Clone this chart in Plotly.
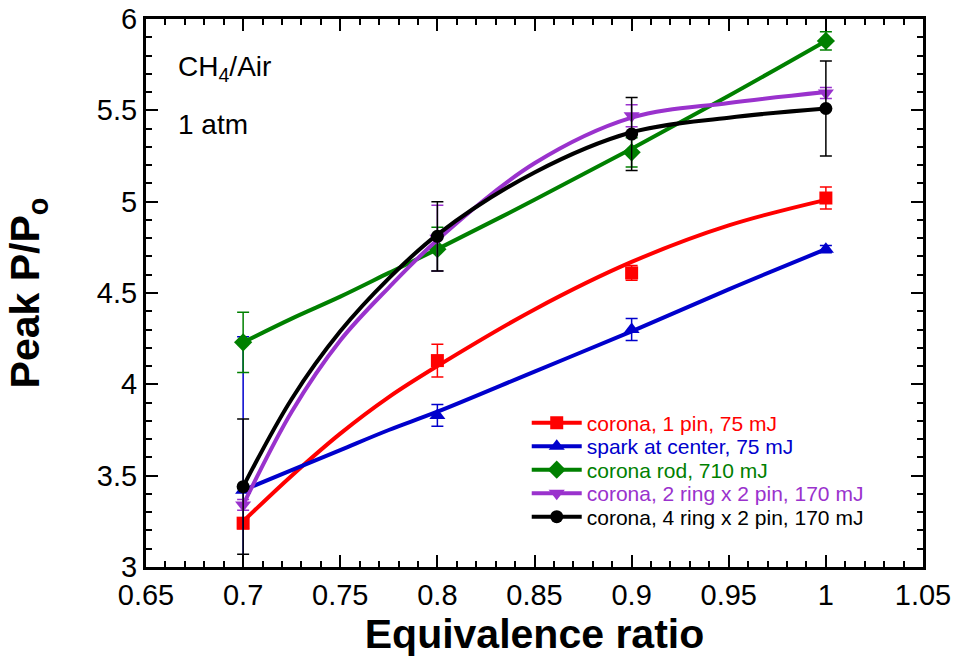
import plotly.graph_objects as go

# measured points
phi = [0.7, 0.8, 0.9, 1.0]
red_y = [3.24, 4.13, 4.61, 5.02]
red_err = [0.03, 0.09, 0.04, 0.06]
blue_y = [3.42, 3.83, 4.30, 4.74]
blue_err = [0.84, 0.06, 0.06, 0.02]
green_y = [4.23, 4.74, 5.27, 5.88]
green_err = [0.165, 0.12, 0.08, 0.05]
purple_y = [3.34, 4.80, 5.47, 5.595]
purple_err = [0.03, 0.18, 0.06, 0.03]
black_y = [3.44, 4.81, 5.37, 5.51]
black_err = [0.37, 0.19, 0.20, 0.26]

# fitted curves
fit_phi = [0.7, 0.725, 0.75, 0.775, 0.8, 0.85, 0.9, 0.95, 1.0]
red_fit = [3.25, 3.50, 3.73, 3.93, 4.10, 4.41, 4.67, 4.87, 5.01]
blue_fit = [3.42, 3.53, 3.64, 3.75, 3.85, 4.07, 4.29, 4.52, 4.74]
green_fit = [4.23, 4.36, 4.48, 4.61, 4.74, 5.01, 5.29, 5.58, 5.88]
purple_fit = [3.34, 3.85, 4.24, 4.53, 4.79, 5.21, 5.46, 5.54, 5.60]
black_fit = [3.44, 3.92, 4.29, 4.58, 4.82, 5.16, 5.38, 5.46, 5.51]

names = [
    "corona, 1 pin, 75 mJ",
    "spark at center, 75 mJ",
    "corona rod, 710 mJ",
    "corona, 2 ring x 2 pin, 170 mJ",
    "corona, 4 ring x 2 pin, 170 mJ",
]

x_tickvals = [0.65, 0.7, 0.75, 0.8, 0.85, 0.9, 0.95, 1.0, 1.05]
x_ticktext = ["0.65", "0.7", "0.75", "0.8", "0.85", "0.9", "0.95", "1", "1.05"]
y_tickvals = [3, 3.5, 4, 4.5, 5, 5.5, 6]
y_ticktext = ["3", "3.5", "4", "4.5", "5", "5.5", "6"]

FONT = "Liberation Sans, Arial, sans-serif"

series = [
    (names[0], red_y, red_err, red_fit, "#FF0000", "square", 13),
    (names[1], blue_y, blue_err, blue_fit, "#0000CC", "triangle-up", 14),
    (names[2], green_y, green_err, green_fit, "#008000", "diamond", 14),
    (names[3], purple_y, purple_err, purple_fit, "#9A32CD", "triangle-down", 14),
    (names[4], black_y, black_err, black_fit, "#000000", "circle", 13),
]

fig = go.Figure()
legend_ids = ["legend", "legend2", "legend3", "legend4", "legend5"]
for i, (name, ys, errs, fit, color, sym, msize) in enumerate(series):
    fig.add_trace(go.Scatter(
        x=fit_phi, y=fit, mode="lines", showlegend=False, hoverinfo="skip",
        line=dict(color=color, width=4, shape="spline", smoothing=1.0),
    ))
    fig.add_trace(go.Scatter(
        x=phi, y=ys, mode="markers", showlegend=False,
        marker=dict(color=color, symbol=sym, size=msize),
        error_y=dict(type="data", array=errs, visible=True, color=color,
                     thickness=1.5, width=6),
    ))
    fig.add_trace(go.Scatter(
        x=[None], y=[None], mode="lines+markers", showlegend=True,
        legend=legend_ids[i],
        name=f'<span style="color:{color}">{name}</span>',
        line=dict(color=color, width=4),
        marker=dict(color=color, symbol=sym, size=msize),
    ))

axis_common = dict(
    showline=True, linecolor="black", linewidth=3, mirror="ticks",
    ticks="inside", ticklen=12, tickwidth=2, tickcolor="black",
    showgrid=False, zeroline=False, automargin=False,
    tickfont=dict(family=FONT, size=29, color="black"),
)

fig.update_xaxes(
    range=[0.65, 1.05], tickmode="array", tickvals=x_tickvals, ticktext=x_ticktext,
    minor=dict(ticks="inside", dtick=0.01, tick0=0.65, ticklen=6, tickwidth=1.5, tickcolor="black"),
    title=dict(text="<b>Equivalence ratio</b>", standoff=10,
               font=dict(family=FONT, size=41, color="black")),
    **axis_common,
)
fig.update_yaxes(
    range=[3, 6], tickmode="array", tickvals=y_tickvals, ticktext=y_ticktext,
    minor=dict(ticks="inside", dtick=0.1, tick0=3, ticklen=6, tickwidth=1.5, tickcolor="black"),
    title=dict(text="<b>Peak P/P<sub>o</sub></b>", standoff=45,
               font=dict(family=FONT, size=41, color="black")),
    **axis_common,
)

fig.add_annotation(text="CH<sub>4</sub>/Air", xref="paper", yref="paper",
                   x=0.038, y=0.91, xanchor="left", yanchor="middle", showarrow=False,
                   font=dict(family=FONT, size=28, color="black"))
fig.add_annotation(text="1 atm", xref="paper", yref="paper",
                   x=0.038, y=0.807, xanchor="left", yanchor="middle", showarrow=False,
                   font=dict(family=FONT, size=28, color="black"))

row_centers = [423, 446.5, 470, 493.5, 517]
legend_layout = {}
for lid, yc in zip(legend_ids, row_centers):
    legend_layout[lid] = dict(
        x=0.49, y=(567 - yc) / 548, xanchor="left", yanchor="middle",
        bgcolor="rgba(0,0,0,0)", borderwidth=0,
        font=dict(family=FONT, size=21), itemwidth=50,
    )

fig.update_layout(
    width=958, height=662,
    margin=dict(l=146, r=35, t=19, b=95),
    paper_bgcolor="white", plot_bgcolor="white",
    font=dict(family=FONT, color="black"),
    **legend_layout,
)

fig.write_html(
    "out.html",
    config={"displayModeBar": False},
    post_script="document.body.style.margin='0px';document.body.style.overflow='hidden';",
)
